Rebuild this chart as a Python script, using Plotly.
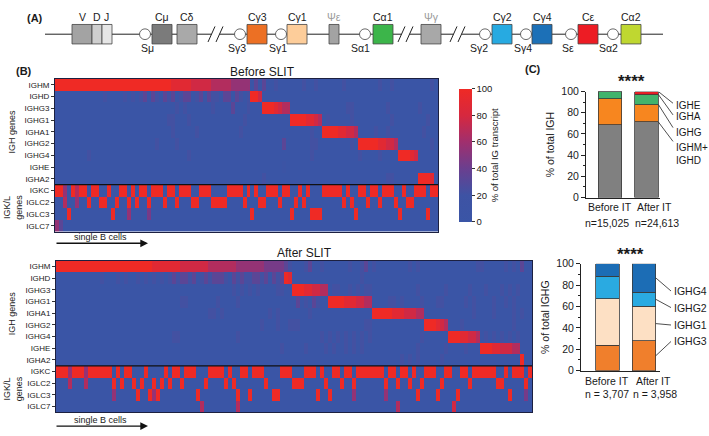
import plotly.graph_objects as go

W, H = 709, 436

# ---------------- data ----------------
genes = ["IGHM", "IGHD", "IGHG3", "IGHG1", "IGHA1", "IGHG2", "IGHG4", "IGHE", "IGHA2",
         "IGKC", "IGLC2", "IGLC3", "IGLC7"]

# Heatmap rows: one digit per group of cells, 0 = 0 %, 9 = 100 %
before_IGHM  = "99999999 99999999 99999999 99999888 88777776 66665555 50303002 00000020 02000000 20000000 02002000 00000020"
before_IGHD  = "00000000 00002000 02020230 32032302 33023032 20330320 29970000 00000000 00000000 00000000 00000000 00000000"
before_IGHG3 = "00000000 00000000 00000000 00000020 20000002 00003000 20009998 76600000 00000000 02200000 00020000 00020000"
before_IGHG1 = "00000000 00000000 00000000 00002200 02000000 00000002 00000000 00099998 87602000 00200000 00002000 00000200"
before_IGHA1 = "00000000 00000000 00000000 00000200 00020000 00000020 00000000 00000000 20099998 87760000 20020000 00002000"
before_IGHG2 = "00000000 00000000 00000000 02000020 00000000 00000000 00000000 03000000 22000000 00209999 98877600 00000020"
before_IGHG4 = "00000000 20000000 00000000 00000000 02000000 00000000 00000000 00000000 20000000 00002000 02000099 98700000"
before_IGHE  = "00000000 00000000 00000000 00000000 00000000 00000000 00000000 01000000 00000000 00000000 00000000 00000000"
before_IGHA2 = "00000000 00000000 00000000 00000000 00000000 00000000 00002000 00000000 00000000 00000000 00022000 00099980"
before_IGKC  = "99509699 09900900 99090990 99909909 99009990 00099990 90900999 09900909 00099999 09009909 90999009 00999099"
before_IGLC2 = "00600500 90099009 00909009 00090090 00990009 99900009 00099000 90009090 00000000 90900090 09000900 99000000"
before_IGLC3 = "00090000 00000090 00500004 00000000 00000000 00000000 09000000 00090000 99900000 00090000 00000090 00000900"
before_IGLC7 = "53000000 00000000 00000000 00000000 00000000 00000000 00000000 00000000 00000000 00000000 00000000 00000000"

after_IGHM  = "99999999 99999999 99999999 88888887 77777766 66666555 55554444 43200023 00200000 02002302 00000000 20200000 00000000 02200000 2020300"
after_IGHD  = "00000000 00020002 02002020 20202323 32302323 33203232 23323032 39800000 00000000 00002000 00000000 00000000 00000000 00000000 0000000"
after_IGHG3 = "00000000 00000000 00000000 00000000 00000000 00002020 20200002 20099988 77660220 02020220 00000000 00200000 02000002 00020002 0202000"
after_IGHG1 = "00000000 00000000 00000000 00000002 20000000 20000200 00000000 00003020 32009999 88877660 00022020 00020002 20000020 20000200 2020000"
after_IGHA1 = "00000000 00000000 00000000 00000000 00000022 02000000 00000202 00000002 00000000 00000009 99998887 77660000 00000000 20000200 0020200"
after_IGHG2 = "00000000 00000000 00000000 00000000 00000000 00000000 00020002 00222000 00000000 00000220 00000000 00009998 76000200 00000000 0020000"
after_IGHG4 = "00000000 00000000 00000000 00000220 00000000 00000200 00000000 00000000 00202020 20202020 00000000 00020000 00999887 76020202 0202000"
after_IGHE  = "00000000 00000000 00000000 00000000 00000000 00000000 00000000 20000020 00020200 20202000 00000000 00200000 02000020 00999887 7766000"
after_IGHA2 = "00000000 00000000 00000000 00000000 00000000 00000000 00000000 00000000 00000000 00000000 00000020 20200000 20000000 00000000 0000900"
after_IGKC  = "99959995 99999909 09900090 00090990 99900099 99090099 09990000 99900099 90900990 99099999 99099099 09009990 09900990 99999900 9099909"
after_IGLC2 = "00060006 00000090 90090900 90909009 00000900 00909000 00009000 00099900 00090009 00900000 00900900 90090000 90000009 00000099 0000090"
after_IGLC3 = "00000000 00000050 00009009 59000000 00090000 00000900 90000099 00000000 09009000 00500000 00500000 00900009 00009000 00000000 0900040"
after_IGLC7 = "00000000 00000000 00000000 00000000 00006000 00000600 00000000 00000000 00000000 00000000 00000600 00000000 00070000 00000000 0000000"

bar_categories = ["Before IT", "After IT"]
igh_n = ["n=15,025", "n=24,613"]
ighg_n = ["n = 3,707", "n = 3,958"]

igh_labels = ["IGHM+IGHD", "IGHG", "IGHA", "IGHE"]
igh_mD = [68.5, 71.3]
igh_G = [24.5, 16.5]
igh_A = [6.7, 9.4]
igh_E = [0.3, 2.8]

ighg_labels = ["IGHG3", "IGHG1", "IGHG2", "IGHG4"]
ighg_3 = [23.6, 28.0]
ighg_1 = [43.7, 32.0]
ighg_2 = [21.2, 13.4]
ighg_4 = [11.5, 26.6]

cbar_ticks = [0, 20, 40, 60, 80, 100]
y_ticks = [0, 20, 40, 60, 80, 100]

diagram_top_labels = ["V", "D", "J", "Cμ", "Cδ", "Cγ3", "Cγ1", "Ψε", "Cα1", "Ψγ", "Cγ2", "Cγ4", "Cε", "Cα2"]
diagram_switch_labels = ["Sμ", "Sγ3", "Sγ1", "Sα1", "Sγ2", "Sγ4", "Sε", "Sα2"]

# ---------------- helpers ----------------
def X(p):
    return p / W

def Y(p):
    return 1 - p / H

def decode(s):
    return [int(c) * 100 / 9 for c in s.replace(" ", "")]

z_before = [decode(r) for r in [before_IGHM, before_IGHD, before_IGHG3, before_IGHG1, before_IGHA1,
                                before_IGHG2, before_IGHG4, before_IGHE, before_IGHA2, before_IGKC,
                                before_IGLC2, before_IGLC3, before_IGLC7]]
z_after = [decode(r) for r in [after_IGHM, after_IGHD, after_IGHG3, after_IGHG1, after_IGHA1,
                               after_IGHG2, after_IGHG4, after_IGHE, after_IGHA2, after_IGKC,
                               after_IGLC2, after_IGLC3, after_IGLC7]]
assert len(set(len(r) for r in z_before)) == 1, [len(r) for r in z_before]
assert len(set(len(r) for r in z_after)) == 1, [len(r) for r in z_after]
nb = len(z_before[0])
na = len(z_after[0])

cs = [[0.0, "#3a55a6"], [0.2, "#3e53a4"], [0.4, "#6a3f8f"], [0.6, "#a02f6e"],
      [0.8, "#d6283f"], [1.0, "#ef2a25"]]

FONT = "Arial, Liberation Sans, sans-serif"
TXT = "#1a1a1a"

fig = go.Figure()

fig.add_trace(go.Heatmap(
    z=z_before, y=genes, x=list(range(nb)), colorscale=cs, zmin=0, zmax=100,
    xaxis="x", yaxis="y", hoverinfo="skip",
    colorbar=dict(x=X(449), xanchor="left", y=Y((75 + 232) / 2), yanchor="middle",
                  len=(232 - 75) / H, lenmode="fraction", thickness=13, thicknessmode="pixels",
                  tickvals=cbar_ticks, ticks="outside", ticklen=3, tickcolor="#333",
                  tickfont=dict(size=9.5, color=TXT), outlinewidth=0,
                  title=dict(text="% of total IG transcript", side="right",
                             font=dict(size=9.5, color=TXT)))))
fig.add_trace(go.Heatmap(
    z=z_after, y=genes, x=list(range(na)), colorscale=cs, zmin=0, zmax=100,
    xaxis="x2", yaxis="y2", showscale=False, hoverinfo="skip"))

bar_line = dict(color="#3a3a3a", width=0.8)
for vals, col in [(igh_mD, "#808080"), (igh_G, "#f7861f"), (igh_A, "#42b36c"), (igh_E, "#e31e25")]:
    fig.add_trace(go.Bar(x=[0, 1], y=vals, width=0.65, xaxis="x3", yaxis="y3",
                         marker=dict(color=col, line=bar_line), hoverinfo="skip"))
for vals, col in [(ighg_3, "#f07f2c"), (ighg_1, "#fde0c4"), (ighg_2, "#2aaae1"), (ighg_4, "#1c6db5")]:
    fig.add_trace(go.Bar(x=[0, 1], y=vals, width=0.65, xaxis="x4", yaxis="y4",
                         marker=dict(color=col, line=bar_line), hoverinfo="skip"))

hm_line = "#1c2040"
common_hm_y = dict(autorange="reversed", type="category", ticks="outside", ticklen=3, tickcolor="#333",
                   tickfont=dict(size=8, color=TXT), showline=True, mirror=True, linecolor=hm_line,
                   linewidth=1, showgrid=False, zeroline=False)
common_hm_x = dict(showticklabels=False, ticks="", showline=True, mirror=True, linecolor=hm_line,
                   linewidth=1, showgrid=False, zeroline=False)

bar_y = dict(range=[0, 100], tickvals=y_ticks, ticks="outside", ticklen=4, tickcolor="#222",
             showline=True, linecolor="#222", linewidth=1, tickfont=dict(size=10.5, color=TXT),
             minor=dict(dtick=10, ticklen=2, ticks="outside", tickcolor="#222"),
             showgrid=False, zeroline=False)
bar_x = dict(showticklabels=False, ticks="", showline=True, linecolor="#222", linewidth=1,
             showgrid=False, zeroline=False)

fig.update_layout(
    width=W, height=H, margin=dict(l=0, r=0, t=0, b=0), autosize=False,
    paper_bgcolor="white", plot_bgcolor="white", barmode="stack", showlegend=False,
    font=dict(family=FONT, color=TXT),
    xaxis=dict(domain=[X(55), X(438)], anchor="y", range=[-0.5, nb - 0.5], **common_hm_x),
    yaxis=dict(domain=[Y(232), Y(75)], anchor="x", **common_hm_y),
    xaxis2=dict(domain=[X(56), X(532)], anchor="y2", range=[-0.5, na - 0.5], **common_hm_x),
    yaxis2=dict(domain=[Y(418), Y(262)], anchor="x2", **common_hm_y),
    xaxis3=dict(domain=[X(586), X(660)], anchor="y3", range=[-0.66, 1.37], **bar_x),
    yaxis3=dict(domain=[Y(197), Y(88)], anchor="x3",
                title=dict(text="% of total IGH", font=dict(size=10.5), standoff=4), **bar_y),
    xaxis4=dict(domain=[X(581), X(660)], anchor="y4", range=[-0.726, 1.44], **bar_x),
    yaxis4=dict(domain=[Y(375), Y(265)], anchor="x4",
                title=dict(text="% of total IGHG", font=dict(size=10.5), standoff=4), **bar_y),
)

shapes = []
ann = []

def text(x, y, s, size=10, xanchor="center", yanchor="middle", color=TXT, bold=False, angle=0,
         xref="paper", yref="paper"):
    ann.append(dict(x=x, y=y, xref=xref, yref=yref, text=f"<b>{s}</b>" if bold else s,
                    showarrow=False, xanchor=xanchor, yanchor=yanchor, textangle=angle,
                    font=dict(size=size, color=color, family=FONT)))

# ---- separators in heatmaps ----
for xa, ya in [("x", "y"), ("x2", "y2")]:
    shapes.append(dict(type="line", xref=f"{xa} domain", yref=ya, x0=0, x1=1, y0=8.5, y1=8.5,
                       line=dict(color="#111", width=1.3)))

# ---- panel labels and titles ----
text(X(25), Y(12), "(A)", 11, bold=True, xanchor="left")
text(X(14), Y(67), "(B)", 11, bold=True, xanchor="left")
text(X(523), Y(65), "(C)", 11, bold=True, xanchor="left")
text(X(262), Y(68), "Before SLIT", 12)
text(X(304), Y(254), "After SLIT", 12)
for top_c, sep_c, bot_c in [(75, 183, 232), (262, 370, 418)]:
    text(X(12), Y((top_c + sep_c) / 2), "IGH genes", 9, angle=-90)
    text(X(13), Y((sep_c + bot_c) / 2), "IGK/L<br>genes", 9, angle=-90)

# ---- single B cells arrows ----
for ty, ay in [(238, 244), (426, 432)]:
    text(X(72), Y(ty), "single B cells", 9, xanchor="left")
    ann.append(dict(x=X(148), y=Y(ay), xref="paper", yref="paper", ax=-93, ay=0, axref="pixel",
                    ayref="pixel", text="", showarrow=True, arrowhead=2, arrowsize=1.1,
                    arrowwidth=1.4, arrowcolor="#111"))

# ---- bar category labels ----
for (cx, cy), s in zip([(610, 207), (654, 207)], bar_categories):
    text(X(cx), Y(cy), s, 10.5)
for (cx, cy), s in zip([(607, 223), (657, 223)], igh_n):
    text(X(cx), Y(cy), s, 10.5)
for (cx, cy), s in zip([(607, 386), (653, 386)], bar_categories):
    text(X(cx), Y(cy), s, 10.5)
for (cx, cy), s in zip([(607, 399), (655, 399)], ighg_n):
    text(X(cx), Y(cy), s, 10.5)

# ---- significance stars ----
text(X(631), Y(78), "****", 17, bold=True)
text(X(630), Y(256), "****", 17, bold=True)

# ---- bar connectors and labels (top) ----
after_tops = [igh_mD[1], igh_mD[1] + igh_G[1], igh_mD[1] + igh_G[1] + igh_A[1],
              igh_mD[1] + igh_G[1] + igh_A[1] + igh_E[1]]
top_label_y = [41.5, 61.5, 76.1, 87.2]   # label rows (axis units), bottom to top
top_label_txt = ["IGHM+<br>IGHD", igh_labels[1], igh_labels[2], igh_labels[3]]
top_end_y = [53, 66, 78, 89]
edge3 = X(586 + (1 + 0.325 + 0.66) / (1.37 + 0.66) * 74)
for yt, ye, yl, lab in zip(after_tops, top_end_y, top_label_y, top_label_txt):
    shapes.append(dict(type="line", xref="paper", yref="y3", x0=edge3, x1=X(673), y0=yt, y1=ye,
                       line=dict(color="#222", width=0.8)))
    ann.append(dict(x=X(674), y=yl, xref="paper", yref="y3",
                    text=lab, showarrow=False, xanchor="left", yanchor="middle", align="left",
                    font=dict(size=10, color=TXT, family=FONT)))

# ---- bar connectors and labels (bottom) ----
cum = 0
mids = []
for v in [ighg_3[1], ighg_1[1], ighg_2[1], ighg_4[1]]:
    mids.append(cum + v / 2)
    cum += v
bot_label_y = [27.3, 42.7, 59.0, 74.5]
edge4 = X(581 + (1 + 0.325 + 0.726) / (1.44 + 0.726) * 79)
for ym, yl, lab in zip(mids, bot_label_y, ighg_labels):
    shapes.append(dict(type="line", xref="paper", yref="y4", x0=edge4, x1=X(671), y0=ym, y1=yl,
                       line=dict(color="#222", width=0.8)))
    ann.append(dict(x=X(672), y=yl, xref="paper", yref="y4", text=lab, showarrow=False,
                    xanchor="left", yanchor="middle", font=dict(size=10.5, color=TXT, family=FONT)))

# ---- panel A: gene locus diagram ----
LY = 29
shapes.append(dict(type="line", xref="paper", yref="paper", x0=X(45), x1=X(663), y0=Y(LY), y1=Y(LY),
                   line=dict(color="#222", width=1)))
for sx in [208, 398, 450]:
    shapes.append(dict(type="rect", xref="paper", yref="paper", x0=X(sx + 3.5), x1=X(sx + 11.5),
                       y0=Y(LY - 2), y1=Y(LY + 2), fillcolor="white", line=dict(width=0)))
    for off in [0, 8]:
        shapes.append(dict(type="line", xref="paper", yref="paper", x0=X(sx + off), x1=X(sx + off + 7),
                           y0=Y(37), y1=Y(21), line=dict(color="#222", width=1)))

box_pos = [(72, 92), (92, 102), (102, 112), (152, 172), (177, 197), (247, 267), (287, 307),
           (329, 339), (373, 393), (421, 441), (492, 512), (532, 552), (578, 598), (621, 641)]
box_col = ["#a3a3a3", "#cfcfcf", "#e6e6e6", "#7b7b7b", "#a9a9a9", "#ec7024", "#fdcd9a",
           "#a3a3a3", "#3cb54a", "#a8a8a8", "#27aae1", "#1c70b7", "#ed1c24", "#bfd730"]
for (x0, x1), c, lab in zip(box_pos, box_col, diagram_top_labels):
    shapes.append(dict(type="rect", xref="paper", yref="paper", x0=X(x0), x1=X(x1), y0=Y(39), y1=Y(19),
                       fillcolor=c, line=dict(color="#444", width=0.8)))
    col = "#9a9a9a" if lab.startswith("Ψ") else TXT
    text(X((x0 + x1) / 2), Y(11), lab, 10.5, color=col)

sw_circ = [145, 240, 281, 365, 485, 526, 571, 613]
sw_lab_x = [147, 237, 278, 360, 479, 523, 568, 608]
for cx, lx, lab in zip(sw_circ, sw_lab_x, diagram_switch_labels):
    shapes.append(dict(type="circle", xref="paper", yref="paper", x0=X(cx - 5.5), x1=X(cx + 5.5),
                       y0=Y(LY + 5.5), y1=Y(LY - 5.5), fillcolor="white", line=dict(color="#444", width=0.8)))
    text(X(lx), Y(43), lab, 10.5)

fig.update_layout(shapes=shapes, annotations=ann)
fig.write_html("out.html", config={"displayModeBar": False},
               post_script="document.body.style.margin='0';document.body.style.overflow='hidden';")
